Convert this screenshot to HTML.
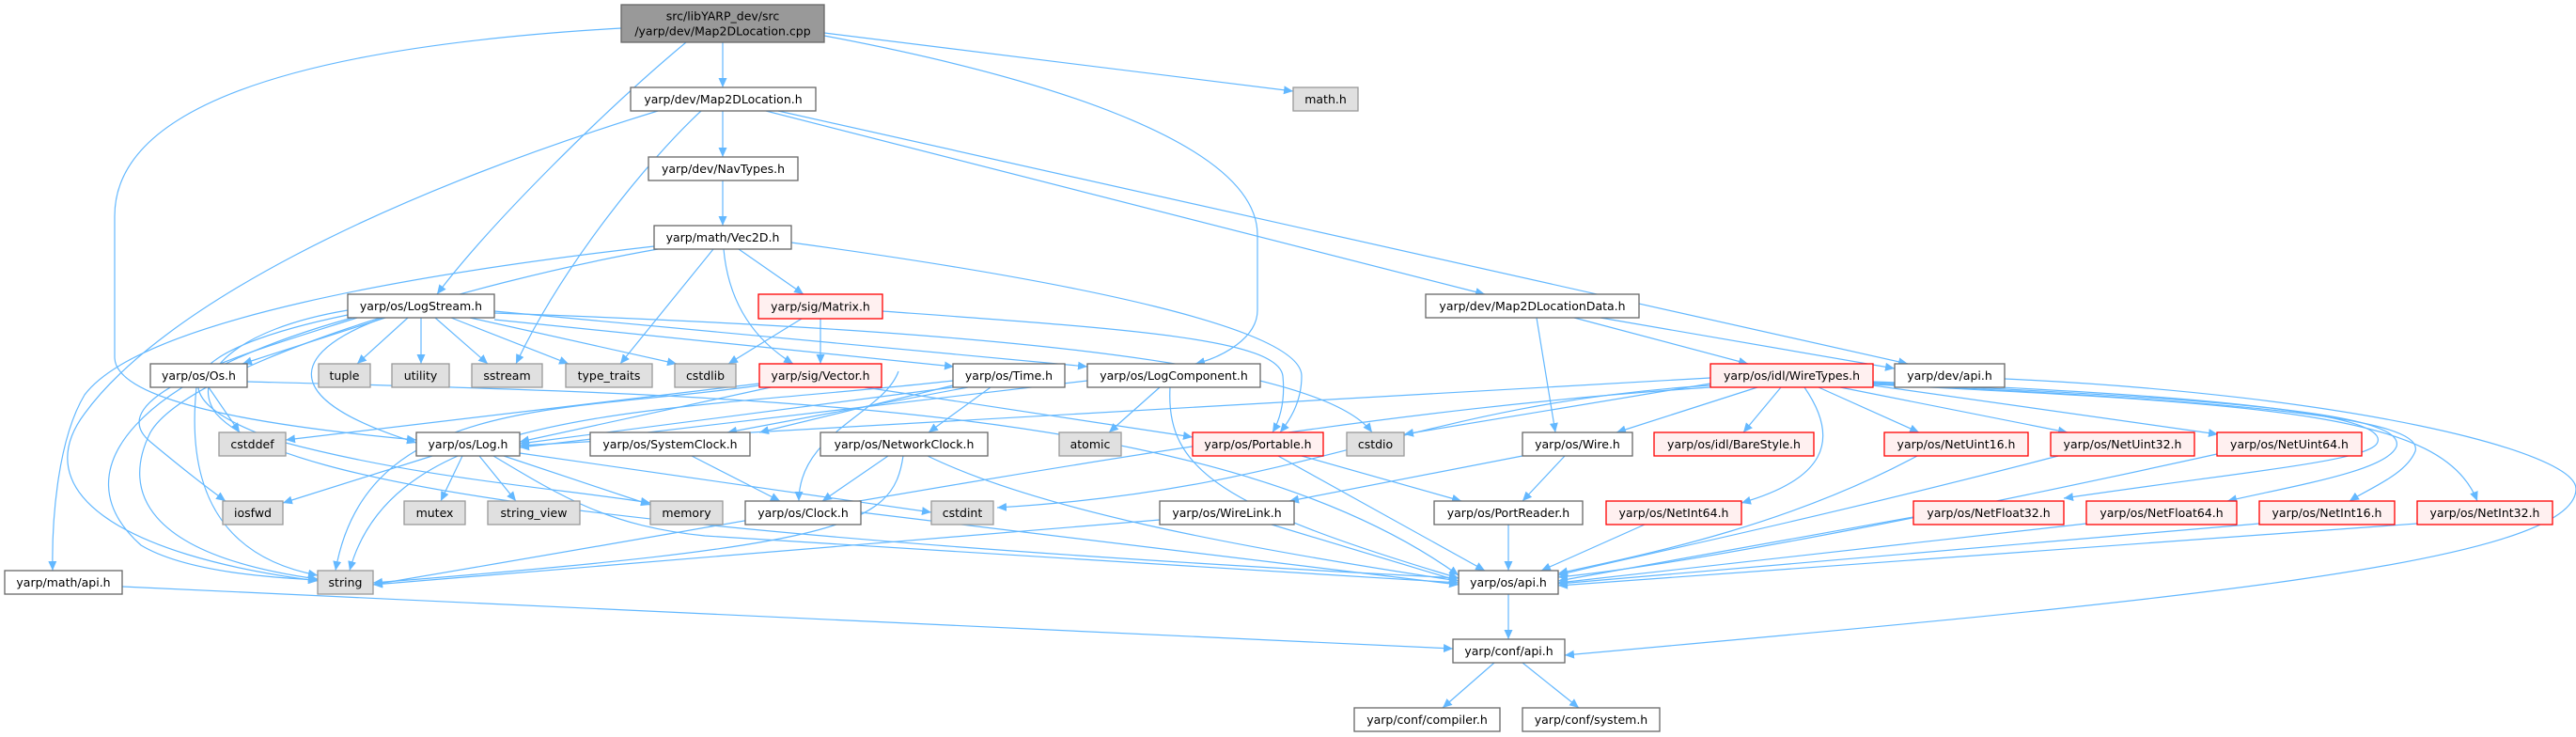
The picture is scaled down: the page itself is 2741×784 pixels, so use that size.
<!DOCTYPE html>
<html><head><meta charset="utf-8"><style>
html,body{margin:0;padding:0;background:#fff;}
svg{display:block}
text{font-family:"DejaVu Sans","Liberation Sans",sans-serif;font-size:12.5px;fill:#000;text-anchor:middle;dominant-baseline:central}
.n{fill:#fff;stroke:#666;stroke-width:1.3}
.g{fill:#e0e0e0;stroke:#999;stroke-width:1.3}
.r{fill:#fff0f0;stroke:#f00;stroke-width:1.3}
.m{fill:#999;stroke:#666;stroke-width:1.3}
path.e{fill:none;stroke:#63b8ff;stroke-width:1.2;marker-end:url(#a)}
</style></head><body>
<svg width="2741" height="784" viewBox="0 0 2741 784" xmlns="http://www.w3.org/2000/svg">
<defs><marker id="a" markerUnits="userSpaceOnUse" markerWidth="11" markerHeight="9" refX="10" refY="4.5" orient="auto"><path d="M0,0 L10,4.5 L0,9 z" fill="#63b8ff"/></marker></defs>
<g>
<path class="e" d="M769,45 L769,93"/>
<path class="e" d="M730,45 C640,120 520,240 465,313"/>
<path class="e" d="M661,30 C400,45 122,90 122,230 L122,380 C122,430 300,455 443,468"/>
<path class="e" d="M877,35 L1376,97"/>
<path class="e" d="M877,38 C1100,80 1338,150 1338,250 L1338,330 C1338,360 1300,380 1272,387"/>
<path class="e" d="M769,118 L769,167"/>
<path class="e" d="M769,192 L769,240"/>
<path class="e" d="M700,118 C400,210 170,330 90,440 C30,520 120,590 338,618"/>
<path class="e" d="M746,118 C690,170 600,280 549,387"/>
<path class="e" d="M815,118 L1580,313"/>
<path class="e" d="M828,118 L2030,387"/>
<path class="e" d="M696,262 C450,290 150,340 90,420 C60,470 55,560 56,607"/>
<path class="e" d="M700,265 C500,300 200,390 160,460 C130,520 150,590 338,616"/>
<path class="e" d="M759,265 L660,387"/>
<path class="e" d="M770,265 C775,320 800,360 844,387"/>
<path class="e" d="M786,265 L855,313"/>
<path class="e" d="M842,258 C1150,300 1385,350 1385,400 C1385,430 1370,450 1362,460"/>
<path class="e" d="M853,339 L775,387"/>
<path class="e" d="M873,339 L873,387"/>
<path class="e" d="M939,331 C1200,350 1360,360 1365,400 C1368,430 1360,450 1354,460"/>
<path class="e" d="M410,338 L258,387"/>
<path class="e" d="M434,338 L380,387"/>
<path class="e" d="M448,338 L448,387"/>
<path class="e" d="M463,338 L519,387"/>
<path class="e" d="M480,338 L605,387"/>
<path class="e" d="M500,338 L720,387"/>
<path class="e" d="M526,340 L1015,390"/>
<path class="e" d="M526,331 L1157,390"/>
<path class="e" d="M408,338 C320,370 280,420 443,471"/>
<path class="e" d="M375,338 C150,400 60,500 150,580 C200,610 300,615 338,617"/>
<path class="e" d="M380,338 C280,370 100,420 160,470 C190,495 215,515 240,533"/>
<path class="e" d="M526,333 C1000,350 1400,380 1460,460"/>
<path class="e" d="M370,330 C250,350 200,400 230,440 C300,520 700,570 1552,615"/>
<path class="e" d="M370,335 C200,370 150,420 300,470 C450,510 600,520 692,535"/>
<path class="e" d="M222,412 L255,460"/>
<path class="e" d="M209,412 C200,500 220,590 338,612"/>
<path class="e" d="M263,406 C800,420 1300,430 1552,612"/>
<path class="e" d="M460,485 L301,535"/>
<path class="e" d="M492,485 L469,533"/>
<path class="e" d="M510,485 L549,533"/>
<path class="e" d="M536,485 L692,537"/>
<path class="e" d="M553,482 L991,545"/>
<path class="e" d="M525,485 C600,530 650,560 750,570 L1552,620"/>
<path class="e" d="M820,412 L553,470"/>
<path class="e" d="M808,410 C600,440 390,420 357,607"/>
<path class="e" d="M1014,405 C700,440 420,430 372,607"/>
<path class="e" d="M920,412 L1269,465"/>
<path class="e" d="M808,408 L304,468"/>
<path class="e" d="M1014,410 L808,460"/>
<path class="e" d="M1030,412 L774,460"/>
<path class="e" d="M1054,412 L988,460"/>
<path class="e" d="M1014,412 L553,472"/>
<path class="e" d="M956,395 C940,440 850,460 850,533"/>
<path class="e" d="M1234,412 L1180,460"/>
<path class="e" d="M1157,405 L553,476"/>
<path class="e" d="M1245,412 C1240,500 1300,540 1552,615"/>
<path class="e" d="M736,485 L830,533"/>
<path class="e" d="M945,485 L875,533"/>
<path class="e" d="M961,485 C950,560 900,580 397,620"/>
<path class="e" d="M987,485 C1100,540 1300,580 1552,618"/>
<path class="e" d="M916,545 L1552,622"/>
<path class="e" d="M1385,485 L1555,533"/>
<path class="e" d="M1360,485 L1580,607"/>
<path class="e" d="M1820,408 L1494,462"/>
<path class="e" d="M1870,412 L1720,460"/>
<path class="e" d="M1895,412 L1855,460"/>
<path class="e" d="M1920,412 C1960,470 1940,510 1853,535"/>
<path class="e" d="M1935,412 L2042,460"/>
<path class="e" d="M1958,412 L2200,460"/>
<path class="e" d="M1993,410 L2360,462"/>
<path class="e" d="M1993,406 C2350,420 2540,440 2530,470 C2525,490 2400,500 2196,530"/>
<path class="e" d="M1993,407 C2380,425 2560,440 2550,475 C2540,500 2450,515 2370,533"/>
<path class="e" d="M1993,408 C2400,428 2580,445 2570,480 C2560,505 2520,520 2500,533"/>
<path class="e" d="M1993,409 C2420,430 2600,440 2636,533"/>
<path class="e" d="M2133,403 C2500,420 2741,480 2741,520 C2741,600 2300,640 1665,697"/>
<path class="e" d="M1820,402 L553,474"/>
<path class="e" d="M1820,410 C1500,430 1400,520 1061,540"/>
<path class="e" d="M1820,412 C1400,440 1000,520 397,622"/>
<path class="e" d="M1620,485 L1372,533"/>
<path class="e" d="M1665,485 L1620,533"/>
<path class="e" d="M1234,553 L397,622"/>
<path class="e" d="M1353,558 L1552,618"/>
<path class="e" d="M1605,558 L1605,607"/>
<path class="e" d="M1750,558 L1640,607"/>
<path class="e" d="M2040,485 C1900,560 1750,590 1658,610"/>
<path class="e" d="M2190,485 C1900,560 1700,600 1658,612"/>
<path class="e" d="M2359,483 C2100,540 1800,600 1658,614"/>
<path class="e" d="M2036,550 L1658,618"/>
<path class="e" d="M2220,557 L1658,620"/>
<path class="e" d="M2404,557 L1658,621"/>
<path class="e" d="M2572,557 L1658,623"/>
<path class="e" d="M1675,338 L1860,387"/>
<path class="e" d="M1703,338 L2016,392"/>
<path class="e" d="M1635,338 L1655,460"/>
<path class="e" d="M1605,632 L1605,680"/>
<path class="e" d="M1590,705 L1535,753"/>
<path class="e" d="M1620,705 L1680,753"/>
<path class="e" d="M130,624 L1546,690"/>
</g>
<g>
<rect class="m" x="661" y="5" width="216" height="40"/><text x="769" y="17">src/libYARP_dev/src</text><text x="769" y="33">/yarp/dev/Map2DLocation.cpp</text>
<rect class="n" x="671" y="93" width="197" height="25"/><text x="769.5" y="105.5">yarp/dev/Map2DLocation.h</text>
<rect class="g" x="1376" y="93" width="69" height="25"/><text x="1410.5" y="105.5">math.h</text>
<rect class="n" x="690" y="167" width="159" height="25"/><text x="769.5" y="179.5">yarp/dev/NavTypes.h</text>
<rect class="n" x="696" y="240" width="146" height="25"/><text x="769" y="252.5">yarp/math/Vec2D.h</text>
<rect class="n" x="370" y="313" width="156" height="25"/><text x="448" y="325.5">yarp/os/LogStream.h</text>
<rect class="r" x="807" y="313" width="132" height="26"/><text x="873" y="326">yarp/sig/Matrix.h</text>
<rect class="n" x="1517" y="313" width="227" height="25"/><text x="1630.5" y="325.5">yarp/dev/Map2DLocationData.h</text>

<rect class="n" x="160" y="387" width="103" height="25"/><text x="211.5" y="399.5">yarp/os/Os.h</text>
<rect class="g" x="339" y="387" width="55" height="25"/><text x="366.5" y="399.5">tuple</text>
<rect class="g" x="417" y="387" width="61" height="25"/><text x="447.5" y="399.5">utility</text>
<rect class="g" x="502" y="387" width="75" height="25"/><text x="539.5" y="399.5">sstream</text>
<rect class="g" x="602" y="387" width="92" height="25"/><text x="648" y="399.5">type_traits</text>
<rect class="g" x="718" y="387" width="65" height="25"/><text x="750.5" y="399.5">cstdlib</text>
<rect class="r" x="808" y="387" width="130" height="25"/><text x="873" y="399.5">yarp/sig/Vector.h</text>
<rect class="n" x="1014" y="387" width="119" height="25"/><text x="1073.5" y="399.5">yarp/os/Time.h</text>
<rect class="n" x="1157" y="387" width="184" height="25"/><text x="1249" y="399.5">yarp/os/LogComponent.h</text>
<rect class="r" x="1820" y="387" width="173" height="25"/><text x="1906.5" y="399.5">yarp/os/idl/WireTypes.h</text>
<rect class="n" x="2016" y="387" width="117" height="25"/><text x="2074.5" y="399.5">yarp/dev/api.h</text>

<rect class="g" x="233" y="460" width="71" height="25"/><text x="268.5" y="472.5">cstddef</text>
<rect class="n" x="443" y="460" width="110" height="25"/><text x="498" y="472.5">yarp/os/Log.h</text>
<rect class="n" x="628" y="460" width="170" height="25"/><text x="713" y="472.5">yarp/os/SystemClock.h</text>
<rect class="n" x="873" y="460" width="178" height="25"/><text x="962" y="472.5">yarp/os/NetworkClock.h</text>
<rect class="g" x="1127" y="460" width="66" height="25"/><text x="1160" y="472.5">atomic</text>
<rect class="r" x="1269" y="460" width="139" height="25"/><text x="1338.5" y="472.5">yarp/os/Portable.h</text>
<rect class="g" x="1433" y="460" width="61" height="25"/><text x="1463.5" y="472.5">cstdio</text>
<rect class="n" x="1620" y="460" width="117" height="25"/><text x="1678.5" y="472.5">yarp/os/Wire.h</text>
<rect class="r" x="1760" y="460" width="170" height="25"/><text x="1845" y="472.5">yarp/os/idl/BareStyle.h</text>
<rect class="r" x="2005" y="460" width="153" height="25"/><text x="2081.5" y="472.5">yarp/os/NetUint16.h</text>
<rect class="r" x="2182" y="460" width="153" height="25"/><text x="2258.5" y="472.5">yarp/os/NetUint32.h</text>
<rect class="r" x="2359" y="460" width="154" height="25"/><text x="2436" y="472.5">yarp/os/NetUint64.h</text>

<rect class="g" x="237" y="533" width="64" height="25"/><text x="269" y="545.5">iosfwd</text>
<rect class="g" x="430" y="533" width="65" height="25"/><text x="462.5" y="545.5">mutex</text>
<rect class="g" x="519" y="533" width="98" height="25"/><text x="568" y="545.5">string_view</text>
<rect class="g" x="692" y="533" width="77" height="25"/><text x="730.5" y="545.5">memory</text>
<rect class="n" x="793" y="533" width="123" height="25"/><text x="854.5" y="545.5">yarp/os/Clock.h</text>
<rect class="g" x="991" y="533" width="66" height="25"/><text x="1024" y="545.5">cstdint</text>
<rect class="n" x="1234" y="533" width="143" height="25"/><text x="1305.5" y="545.5">yarp/os/WireLink.h</text>
<rect class="n" x="1526" y="533" width="158" height="25"/><text x="1605" y="545.5">yarp/os/PortReader.h</text>
<rect class="r" x="1709" y="533" width="144" height="25"/><text x="1781" y="545.5">yarp/os/NetInt64.h</text>
<rect class="r" x="2036" y="533" width="160" height="25"/><text x="2116" y="545.5">yarp/os/NetFloat32.h</text>
<rect class="r" x="2220" y="533" width="160" height="25"/><text x="2300" y="545.5">yarp/os/NetFloat64.h</text>
<rect class="r" x="2404" y="533" width="144" height="25"/><text x="2476" y="545.5">yarp/os/NetInt16.h</text>
<rect class="r" x="2572" y="533" width="144" height="25"/><text x="2644" y="545.5">yarp/os/NetInt32.h</text>

<rect class="n" x="5" y="607" width="125" height="25"/><text x="67.5" y="619.5">yarp/math/api.h</text>
<rect class="g" x="338" y="607" width="59" height="25"/><text x="367.5" y="619.5">string</text>
<rect class="n" x="1552" y="607" width="106" height="25"/><text x="1605" y="619.5">yarp/os/api.h</text>
<rect class="n" x="1546" y="680" width="119" height="25"/><text x="1605.5" y="692.5">yarp/conf/api.h</text>
<rect class="n" x="1441" y="753" width="155" height="25"/><text x="1518.5" y="765.5">yarp/conf/compiler.h</text>
<rect class="n" x="1620" y="753" width="146" height="25"/><text x="1693" y="765.5">yarp/conf/system.h</text>
</g>
</svg>
</body></html>
